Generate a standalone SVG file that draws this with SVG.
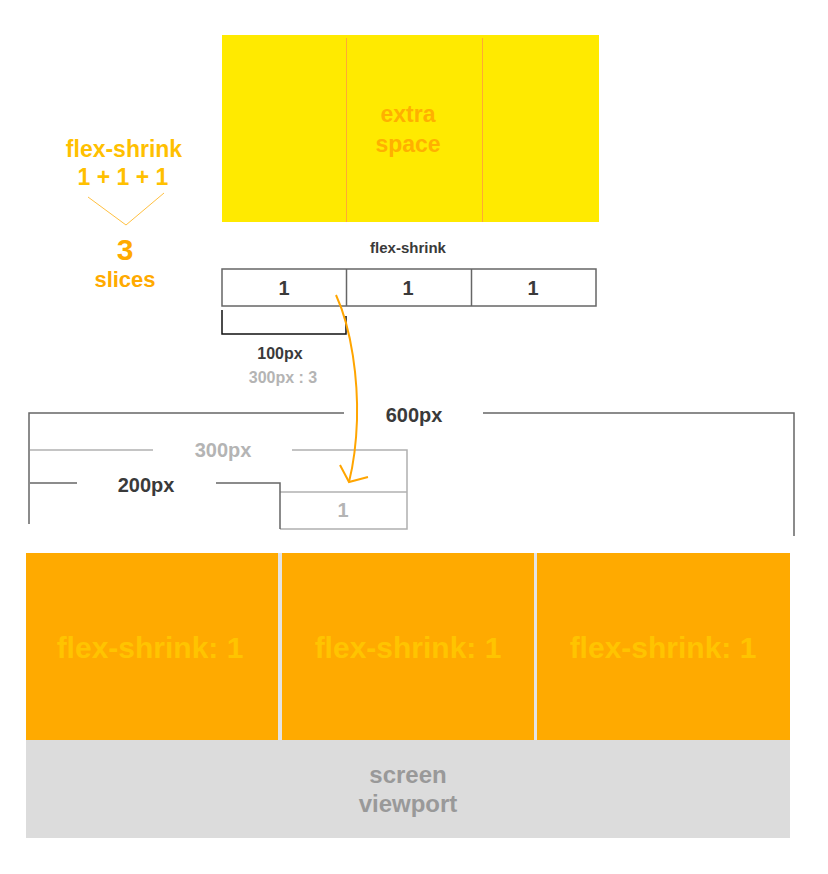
<svg xmlns="http://www.w3.org/2000/svg" width="828" height="874" viewBox="0 0 828 874">
<style>
text{font-family:"Liberation Sans",Arial,sans-serif;font-weight:bold;text-anchor:middle}
.dark{fill:#3a3a3a}
.lite{fill:#b4b4b4}
.ln{fill:none;stroke:#666;stroke-width:1.5}
.lnl{fill:none;stroke:#b0b0b0;stroke-width:1.5}
.box{fill:#FFAA00}
.bt{fill:#FFC400;font-size:30px}
</style>
<rect width="828" height="874" fill="#fff"/>
<g id="extra-space">
<rect x="222" y="35" width="377" height="187" fill="#FFEA00"/>
<line x1="346.5" y1="38" x2="346.5" y2="222" stroke="#FFAA33" stroke-width="1"/>
<line x1="482.5" y1="38" x2="482.5" y2="222" stroke="#FFAA33" stroke-width="1"/>
<text x="408" y="122" font-size="23" fill="#FFB000">extra</text>
<text x="408" y="152" font-size="23" fill="#FFB000">space</text>
</g>
<g id="sum">
<text x="124" y="157" font-size="23" fill="#FFC000">flex-shrink</text>
<text x="123" y="185" font-size="23" fill="#FFC000">1 + 1 + 1</text>
<polyline points="88,197 126,225 164,193" fill="none" stroke="#FFC040" stroke-width="1"/>
<text x="125" y="260" font-size="30" fill="#FFAA00">3</text>
<text x="125" y="287" font-size="22" fill="#FFAA00">slices</text>
</g>
<g id="shrink-row">
<text x="408" y="253" font-size="15" class="dark">flex-shrink</text>
<rect x="222" y="269" width="374" height="37" class="ln"/>
<line x1="346.5" y1="269" x2="346.5" y2="306" class="ln"/>
<line x1="471.5" y1="269" x2="471.5" y2="306" class="ln"/>
<text x="284" y="295" font-size="20" class="dark">1</text>
<text x="408" y="295" font-size="20" class="dark">1</text>
<text x="533" y="295" font-size="20" class="dark">1</text>
</g>
<g id="slice-size">
<polyline points="222,310 222,334 346,334 346,316" fill="none" stroke="#111" stroke-width="1.5"/>
<text x="280" y="359" font-size="16" class="dark">100px</text>
<text x="283" y="383" font-size="16" class="lite">300px : 3</text>
</g>
<g id="dims">
<polyline points="344,413 29,413 29,524" class="ln"/>
<polyline points="483,413 794,413 794,536" class="ln"/>
<text x="414" y="422" font-size="20" class="dark">600px</text>
<polyline points="153,450 30,450" class="lnl"/>
<polyline points="292,450 407,450 407,529 280,529" class="lnl"/>
<line x1="280" y1="492" x2="407" y2="492" class="lnl"/>
<text x="223" y="457" font-size="20" class="lite">300px</text>
<polyline points="30,483 77,483" class="ln"/>
<polyline points="216,483 280,483 280,529" class="ln"/>
<text x="146" y="492" font-size="20" class="dark">200px</text>
<text x="343" y="517" font-size="20" class="lite">1</text>
</g>
<g id="connectors">
<path d="M336,295 C352,330 358,380 357,420 C356,450 352,470 349,482" fill="none" stroke="#FFA500" stroke-width="2"/>
<polyline points="340,465 349,482 368,477" fill="none" stroke="#FFA500" stroke-width="2"/>
</g>
<g id="viewport">
<rect x="26" y="553" width="764" height="187" fill="#e4e4e4"/>
<rect x="26" y="740" width="764" height="98" fill="#DCDCDC"/>
<text x="408" y="783" font-size="24" fill="#999">screen</text>
<text x="408" y="812" font-size="24" fill="#999">viewport</text>
</g>
<g id="item1">
<rect x="26" y="553" width="252" height="187" class="box"/>
<text x="150" y="658" class="bt">flex-shrink: 1</text>
</g>
<g id="item2">
<rect x="282" y="553" width="252" height="187" class="box"/>
<text x="408" y="658" class="bt">flex-shrink: 1</text>
</g>
<g id="item3">
<rect x="537" y="553" width="253" height="187" class="box"/>
<text x="663" y="658" class="bt">flex-shrink: 1</text>
</g>
</svg>
